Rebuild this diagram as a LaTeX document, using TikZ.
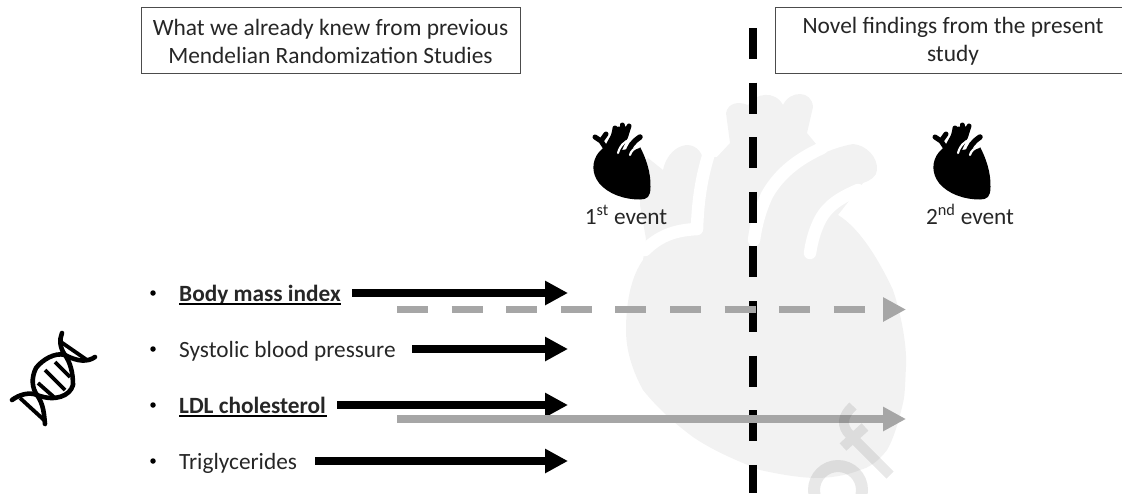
\documentclass[tikz,border=0pt]{standalone}
\usepackage{fontspec}
\setmainfont{Carlito}
\usetikzlibrary{arrows.meta}
\definecolor{wm}{HTML}{F2F2F2}
\definecolor{arrowgray}{HTML}{A6A6A6}
\definecolor{txt}{HTML}{262626}
\tikzset{
  x=1pt,y=-1pt,
  headbox/.style={draw=black!70,line width=1pt,fill=white,inner sep=0pt},
  boxtext/.style={font=\fontsize{23.4}{28}\selectfont,text=txt,align=center,inner sep=0pt},
  itemtext/.style={font=\fontsize{23.3}{28}\selectfont,text=txt,anchor=base west,inner sep=0pt},
  bullet/.style={circle,fill=black,inner sep=0pt,minimum size=5.5pt},
  eventtext/.style={font=\fontsize{23.3}{28}\selectfont,text=txt,inner sep=0pt},
  bigarrow/.style={line width=7.5pt,-{Triangle[length=23pt,width=23pt]}},
  divider/.style={line width=8pt,dash pattern=on 31pt off 23.6pt},
  gapline/.style={white,line width=12.5pt,line cap=round,line join=round},
  smallgap/.style={white,line width=2.2pt,line cap=round},
  vessel/.style={black,line cap=round,line join=round},
  strand/.style={black,line width=4.6pt,line cap=round,line join=round},
  rung/.style={black,line width=3.8pt},
  eventheart/.pic={
    \fill[black] (599,152) -- (605,146) -- (611,135) -- (613,127) -- (631,126) -- (628,137)
      -- (622,150) -- (640,147)
      .. controls (646,158) and (651,173) .. (650.5,187)
      .. controls (650.5,197) and (647,199.5) .. (640,199.5)
      .. controls (624,199.5) and (608,194) .. (599,183)
      .. controls (592,174) and (591,162) .. (599,152) -- cycle;
    \draw[smallgap] (636,135) .. controls (626,140) and (620,145) .. (618,153);
    \draw[vessel,line width=5.5pt] (628,155) .. controls (628,147) and (634,141) .. (640,137);
    \draw[smallgap] (639,147) .. controls (634,148) and (631,151) .. (630,155);
    \draw[vessel,line width=5pt] (616,140) -- (615,128);
    \draw[vessel,line width=5pt] (622,140) -- (622,125);
    \draw[vessel,line width=5pt] (625,138) -- (629,126);
    \draw[vessel,line width=5pt] (607,150) -- (601,141) -- (595,137);
    \draw[vessel,line width=5pt] (601,141) -- (606,134);
  },
}
\begin{document}
\begin{tikzpicture}
\useasboundingbox (0,0) rectangle (1122,493);
% watermark heart
\fill[wm] (626,330) .. controls (626,300) and (632,275) .. (643,260)
  -- (646,239) -- (640,205) -- (640,165) -- (648,158) -- (663,170)
  .. controls (668,145) and (695,135) .. (703,158)
  -- (717,157) -- (730,143) -- (726,113)
  .. controls (728,103) and (738,101) .. (748,105)
  .. controls (755,93) and (775,90) .. (783,105)
  .. controls (790,90) and (812,90) .. (813,107)
  -- (807,133) -- (816,144) -- (795,160) -- (820,155)
  .. controls (830,150) and (842,146) .. (853,144)
  .. controls (866,145) and (878,157) .. (877,170)
  .. controls (877,176) and (870,181) .. (863,183)
  -- (838,215)
  .. controls (860,228) and (880,262) .. (893,290)
  .. controls (903,320) and (907,350) .. (906,367)
  .. controls (905,385) and (905,395) .. (903,403)
  .. controls (898,425) and (892,442) .. (887,450)
  .. controls (878,462) and (868,468) .. (860,470)
  .. controls (845,476) and (830,478) .. (813,478)
  .. controls (795,477) and (778,474) .. (760,470)
  .. controls (735,460) and (712,450) .. (693,437)
  .. controls (670,420) and (655,405) .. (643,390)
  .. controls (632,370) and (626,350) .. (626,330) -- cycle;
\draw[gapline] (710,150) .. controls (703,172) and (698,195) .. (697,229)
  .. controls (680,230) and (662,233) .. (645,250);
\draw[gapline] (822,148) .. controls (800,158) and (780,172) .. (767,195)
  .. controls (760,210) and (756,225) .. (754,240);
\draw[gapline] (810,253) .. controls (812,240) and (815,230) .. (820,220)
  .. controls (828,205) and (840,198) .. (858,190);
% black divider
\coordinate (divtop) at (753,28);
\coordinate (divbot) at (753,493);
\draw[divider] (divtop) -- (divbot);
% heading boxes
\node[headbox,minimum width=379pt,minimum height=66pt] (known) at (330.5,40) {};
\node[boxtext] (knowntext) at (330.5,41) {What we already knew from previous\\Mendelian Randomization Studies};
\draw[draw=black!70,line width=1pt,fill=white] (1123,7) -- (775,7) -- (775,73) -- (1123,73);
\coordinate (novel) at (953,40);
\node[boxtext] (noveltext) at (953,41) {Novel findings from the present\\study};
% items
\node[bullet] (b1) at (153,293) {};
\node[bullet] (b2) at (153,349) {};
\node[bullet] (b3) at (153,405) {};
\node[bullet] (b4) at (153,461) {};
\node[itemtext] (bmi) at (179,301) {\textbf{Body mass index}};
\node[itemtext] (sbp) at (179,357) {Systolic blood pressure};
\node[itemtext] (ldl) at (179,413) {\textbf{LDL cholesterol}};
\node[itemtext] (tg) at (179,469) {Triglycerides};
\draw[black,line width=1.5pt] (bmi.base west) ++(0,3) -- ++(162,0);
\draw[black,line width=1.5pt] (ldl.base west) ++(0,3) -- ++(148,0);
\coordinate (a1s) at (352,293); \coordinate (a1e) at (568,293);
\coordinate (a2s) at (412,349); \coordinate (a2e) at (568,349);
\coordinate (a3s) at (337,405); \coordinate (a3e) at (568,405);
\coordinate (a4s) at (315,461); \coordinate (a4e) at (568,461);
\draw[bigarrow] (a1s) -- (a1e);
\draw[bigarrow] (a2s) -- (a2e);
\draw[bigarrow] (a3s) -- (a3e);
\draw[bigarrow] (a4s) -- (a4e);
\coordinate (g1s) at (397,309.5); \coordinate (g1e) at (906,309.5);
\coordinate (g2s) at (397,419); \coordinate (g2e) at (906,419);
\draw[bigarrow,arrowgray,dash pattern=on 31pt off 23.6pt] (g1s) -- (g1e);
\draw[bigarrow,arrowgray] (g2s) -- (g2e);
% event hearts
\pic at (0,0) {eventheart};
\pic at (340,0) {eventheart};
\node[eventtext] (ev1) at (626,214.5) {1\textsuperscript{st} event};
\node[eventtext] (ev2) at (970,214.5) {2\textsuperscript{nd} event};
% DNA icon
\draw[strand] (62,333) .. controls (59,340) and (60,348) .. (65,355)
  .. controls (70,362) and (73,372) .. (73,385)
  .. controls (70,396) and (55,402) .. (37,395)
  .. controls (30,392) and (20,394) .. (12,400);
\draw[strand] (95,357) .. controls (88,362) and (78,362) .. (65,355)
  .. controls (55,352) and (42,360) .. (36,368)
  .. controls (31,378) and (32,388) .. (37,395)
  .. controls (44,405) and (44,415) .. (45,424);
\draw[rung] (38,383) -- (55,398);
\draw[rung] (45,370) -- (65,390);
\draw[rung] (55,362) -- (70,377);
\draw[rung] (61,342) -- (87,360);
\draw[rung] (20,398) -- (44,420);
% watermark letters
\begin{scope}[transparency group,opacity=0.09]
  \draw[black,line width=10pt] (890,475) -- (850,435)
    .. controls (841,426) and (842,416) .. (853,406);
  \draw[black,line width=10pt] (843,447) -- (865,427);
  \draw[black,line width=12pt] (838,490) circle[radius=24];
\end{scope}
\end{tikzpicture}
\end{document}
